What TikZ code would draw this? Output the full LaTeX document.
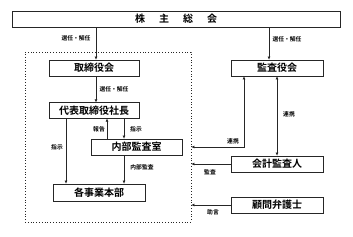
\documentclass[tikz,border=0pt]{standalone}
\usepackage{fontspec}
\newfontfamily\jp{Noto Sans CJK JP Bold}
\usetikzlibrary{arrows.meta,shadows}
\begin{document}
\begin{tikzpicture}[x=1pt,y=-1pt,
  box/.style={draw=black!85, line width=0.8pt, fill=white, inner sep=0pt,
    minimum height=16pt, font=\jp\fontsize{10}{10}\selectfont,
    drop shadow={shadow xshift=0.9pt, shadow yshift=-0.9pt, fill=black!45, opacity=1}},
  lbl/.style={font=\jp\fontsize{5.8}{5.8}\selectfont, inner sep=0pt},
  arr/.style={draw=black!85, line width=0.8pt, -{Triangle[length=3pt,width=2.6pt]}},
  darr/.style={draw=black!85, line width=0.8pt, {Triangle[length=3pt,width=2.6pt]}-{Triangle[length=3pt,width=2.6pt]}},
  grpbox/.style={draw=black!85, line width=0.8pt, dotted, inner sep=0pt}
]
\useasboundingbox (0,0) rectangle (353,237);
% dotted group
\node[grpbox, minimum width=166pt, minimum height=170pt] (grp) at (108,137) {};
% boxes
\node[box, minimum width=328pt] (top) at (176,19) {株\hspace{14pt}主\hspace{14pt}総\hspace{14pt}会};
\node[box, minimum width=90pt] (tori) at (94,68) {取締役会};
\node[box, minimum width=90pt, minimum height=15.5pt] (dai) at (94,110.5) {代表取締役社長};
\node[box, minimum width=91pt] (nai) at (136.5,147) {内部監査室};
\node[box, minimum width=92pt, minimum height=17pt] (kaku) at (99,192.5) {各事業本部};
\node[box, minimum width=92pt] (kan) at (277,68) {監査役会};
\node[box, minimum width=92pt] (kai) at (277,164) {会計監査人};
\node[box, minimum width=92pt] (kom) at (277,205) {顧問弁護士};
% column coordinates
\coordinate (cA) at (66,0);
\coordinate (cB) at (96,0);
\coordinate (cC) at (107,0);
\coordinate (cD) at (124,0);
\coordinate (cE) at (244,0);
\coordinate (cF) at (269,0);
\coordinate (cG) at (277,0);
\coordinate (rE) at (0,147);
% connectors
\draw[arr] (top.south -| cB) -- (tori.north -| cB);
\draw[arr] (top.south -| cF) -- (kan.north -| cF);
\draw[arr] (tori.south -| cB) -- (dai.north -| cB);
\draw[arr] (dai.south -| cA) -- (kaku.north -| cA);
\draw[arr] (nai.north -| cC) -- (dai.south -| cC);
\draw[arr] (dai.south -| cD) -- (nai.north -| cD);
\draw[arr] (nai.south -| cD) -- (kaku.north -| cD);
\draw[darr] (grp.east |- rE) -| (kan.south -| cE);
\draw[darr] (kan.south -| cG) -- (kai.north -| cG);
\draw[arr] (kai.west) -- (grp.east |- kai.west);
\draw[arr] (kom.west) -- (grp.east |- kom.west);
% labels
\node[lbl] (l1) at (76,38.5) {選任・解任};
\node[lbl] (l2) at (114,89) {選任・解任};
\node[lbl] (l3) at (287,39) {選任・解任};
\node[lbl] (l4) at (57,147) {指示};
\node[lbl] (l5) at (99,129) {報告};
\node[lbl] (l6) at (136,129) {指示};
\node[lbl] (l7) at (142,167) {内部監査};
\node[lbl] (l8) at (289,114) {連携};
\node[lbl] (l9) at (233,141) {連携};
\node[lbl] (l10) at (210,172) {監査};
\node[lbl] (l11) at (213,212) {助言};
\end{tikzpicture}
\end{document}
